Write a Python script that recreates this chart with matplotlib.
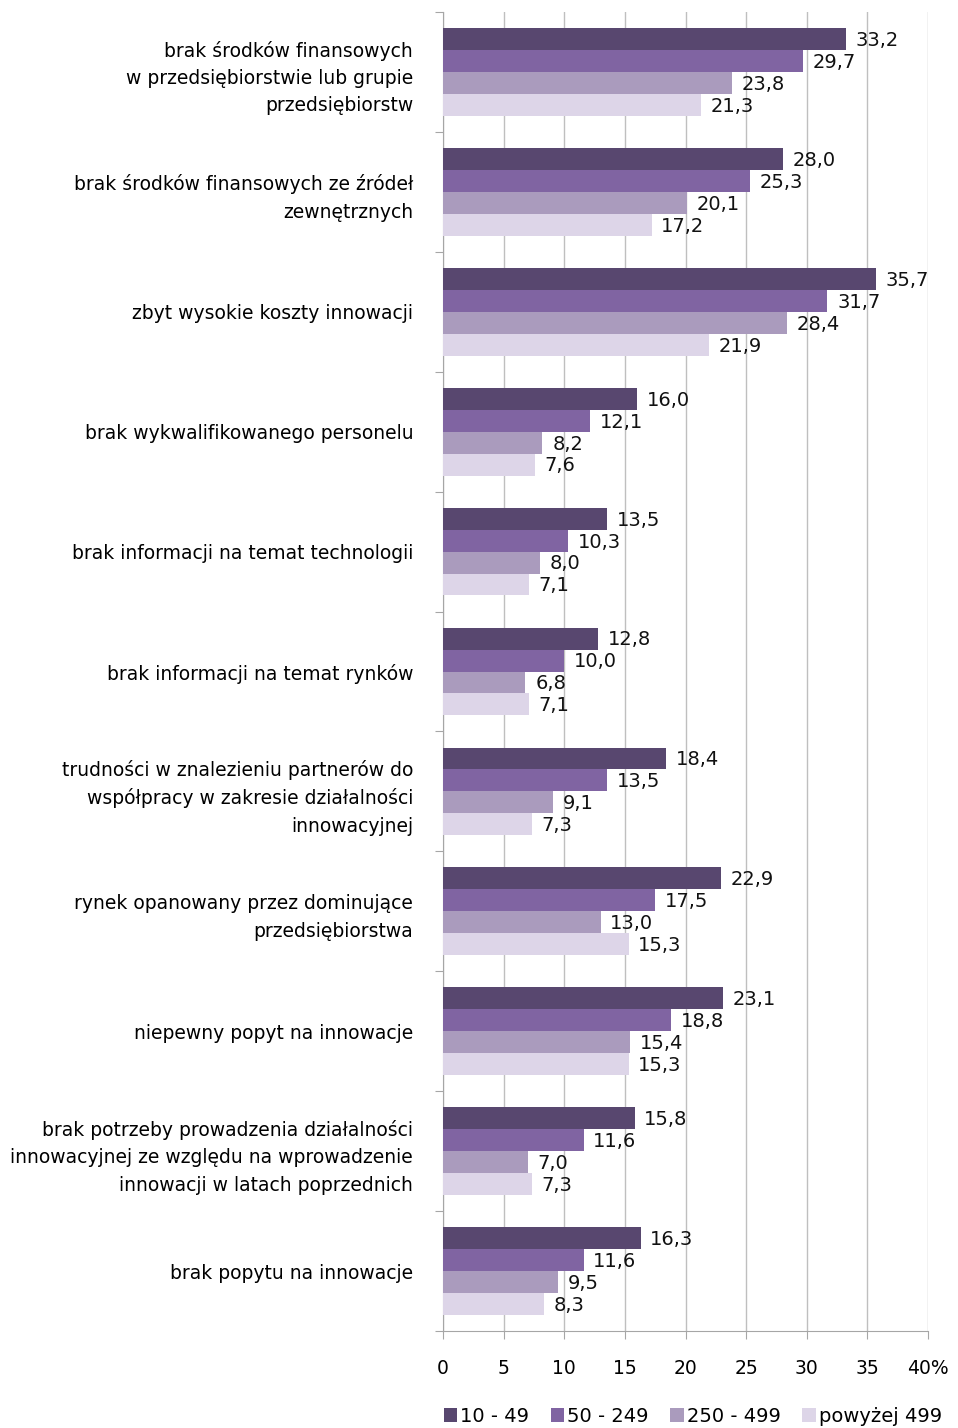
import matplotlib
matplotlib.use('Agg')
import matplotlib.pyplot as plt
import numpy as np

plt.rcParams['font.family'] = ['DejaVu Sans']

categories = [
    'brak środków finansowych\nw przedsiębiorstwie lub grupie\nprzedsiębiorstw',
    'brak środków finansowych ze źródeł\nzewnętrznych',
    'zbyt wysokie koszty innowacji',
    'brak wykwalifikowanego personelu',
    'brak informacji na temat technologii',
    'brak informacji na temat rynków',
    'trudności w znalezieniu partnerów do\nwspółpracy w zakresie działalności\ninnowacyjnej',
    'rynek opanowany przez dominujące\nprzedsiębiorstwa',
    'niepewny popyt na innowacje',
    'brak potrzeby prowadzenia działalności\ninnowacyjnej ze względu na wprowadzenie\ninnowacji w latach poprzednich',
    'brak popytu na innowacje',
]
series_names = ['10 - 49', '50 - 249', '250 - 499', 'powyżej 499']
s_10_49 = [33.2, 28.0, 35.7, 16.0, 13.5, 12.8, 18.4, 22.9, 23.1, 15.8, 16.3]
s_50_249 = [29.7, 25.3, 31.7, 12.1, 10.3, 10.0, 13.5, 17.5, 18.8, 11.6, 11.6]
s_250_499 = [23.8, 20.1, 28.4, 8.2, 8.0, 6.8, 9.1, 13.0, 15.4, 7.0, 9.5]
s_499 = [21.3, 17.2, 21.9, 7.6, 7.1, 7.1, 7.3, 15.3, 15.3, 7.3, 8.3]
xticks = [0, 5, 10, 15, 20, 25, 30, 35, 40]
xticklabels = ['0', '5', '10', '15', '20', '25', '30', '35', '40%']

colors = ['#58476F', '#8064A2', '#AA9BBD', '#DDD5E8']
series = [s_10_49, s_50_249, s_250_499, s_499]

fig = plt.figure(figsize=(9.58, 14.28), dpi=100)
ax = fig.add_axes([443 / 958, 97 / 1428, 485 / 958, 1319 / 1428])

n = len(categories)
y = np.arange(n)
h = 0.183
for i, (vals, col, name) in enumerate(zip(series, colors, series_names)):
    pos = y + (i - 1.5) * h
    ax.barh(pos, vals, height=h, color=col, label=name, zorder=3)
    for p, v in zip(pos, vals):
        ax.annotate(('%.1f' % v).replace('.', ','), (v, p), xytext=(7, -1),
                    textcoords='offset points', va='center', ha='left',
                    fontsize=14, color='#111111', zorder=4)

ax.set_xlim(0, 40)
ax.set_ylim(n - 0.5, -0.5)
ax.set_xticks(xticks)
ax.set_xticklabels(xticklabels, fontsize=13.5)
ax.set_yticks(np.arange(n + 1) - 0.5, minor=False)
ax.set_yticklabels([])
ax.set_yticks(y, minor=True)
ax.set_yticklabels(categories, minor=True, fontsize=13.5, linespacing=1.55)
ax.tick_params(axis='y', which='minor', length=0, pad=21.5)
ax.tick_params(axis='y', which='major', length=6, color='#A6A6A6')
ax.tick_params(axis='x', length=6, color='#A6A6A6', pad=14)

ax.grid(axis='x', color='#BFBFBF', linewidth=1, zorder=0)
for s in ['top', 'right']:
    ax.spines[s].set_visible(False)
for s in ['left', 'bottom']:
    ax.spines[s].set_color('#A6A6A6')

ax.legend(loc='lower center', bbox_to_anchor=(0.515, -0.078), ncol=4, frameon=False,
          fontsize=14, handlelength=0.7, handleheight=0.7, handletextpad=0.15,
          columnspacing=1.1, borderaxespad=0)

fig.savefig('out.png', dpi=100)
